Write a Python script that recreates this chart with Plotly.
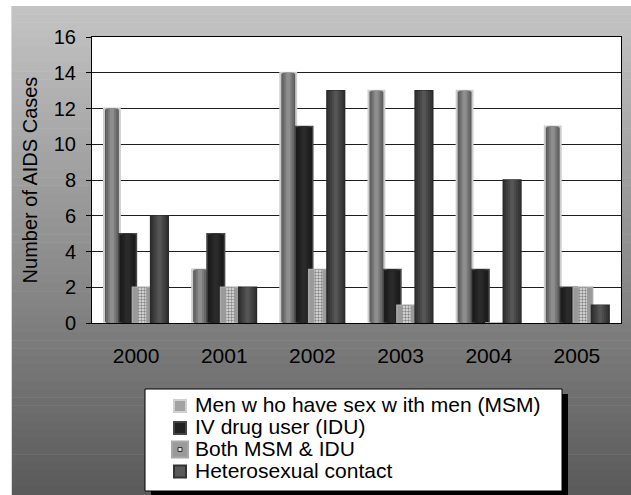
import plotly.graph_objects as go

# ---- data -------------------------------------------------------------
years = ["2000", "2001", "2002", "2003", "2004", "2005"]
msm = [12, 3, 14, 13, 13, 11]
idu = [5, 5, 11, 3, 3, 2]
both = [2, 2, 3, 1, 0, 2]
hetero = [6, 2, 13, 13, 8, 1]

names = [
    "Men w ho have sex w ith men (MSM)",
    "IV drug user (IDU)",
    "Both MSM & IDU",
    "Heterosexual contact",
]

W, H = 631, 495
L, R, T, B = 92, 10, 37, 172
PW, PH = W - L - R, H - T - B
FONT = "Liberation Sans, Arial, sans-serif"


def px_x(px):
    return (px - L) / PW


def px_y(py):
    return (H - B - py) / PH


xpos = list(range(len(years)))

# each series: centre offset, width, outer fill, border, inner shading layers
series = [
    dict(vals=msm, c=-0.274, w=0.18, fill="#5a5a5a", line="#cdcdcd", lw=2,
         layers=[(0.75, "#686868"), (0.5, "#7a7a7a"), (0.26, "#8e8e8e")],
         sym=dict(size=12, fill="#a2a2a2", line="#d0d0d0")),
    dict(vals=idu, c=-0.096, w=0.2, fill="#1c1c1c", line="#474747", lw=1.5,
         layers=[(0.6, "#222222"), (0.3, "#2a2a2a")],
         sym=dict(size=12, fill="#222222", line="#444444")),
    dict(vals=both, c=0.068, w=0.22, fill="#9a9a9a", line="#a8a8a8", lw=1.5,
         layers=[],
         sym=dict(size=16, fill="#9a9a9a", line="#a8a8a8")),
    dict(vals=hetero, c=0.265, w=0.2, fill="#353535", line="#2a2a2a", lw=1.5,
         layers=[(0.7, "#3f3f3f"), (0.45, "#4a4a4a"), (0.22, "#555555")],
         sym=dict(size=12, fill="#5a5a5a", line="#333333")),
]

fig = go.Figure()


def add_bar(vals, offset, width, marker):
    fig.add_trace(go.Bar(
        x=xpos, y=vals, offset=offset, width=width, marker=marker,
        textposition="none", showlegend=False, hoverinfo="skip",
    ))


for s in series:
    add_bar(s["vals"], s["c"] - s["w"] / 2, s["w"],
            dict(color=s["fill"], line=dict(color=s["line"], width=s["lw"])))
    for frac, col in s["layers"]:
        ww = s["w"] * frac
        add_bar(s["vals"], s["c"] - ww / 2, ww, dict(color=col, line=dict(width=0)))
    if s["vals"] is both:
        ww = s["w"] * 0.42
        add_bar(s["vals"], s["c"] - ww / 2, ww,
                dict(color="#dcdcdc", line=dict(width=0),
                     pattern=dict(shape=".", fgcolor="#262626", bgcolor="#e6e6e6",
                                  size=3, solidity=0.5)))

# ---- background: vertical grey gradient, white plot area -----------------
shapes = []
n = 60
top_px, bot_px = 6, H
c_top, c_bot = 196, 90
for i in range(n):
    y0 = top_px + (bot_px - top_px) * i / n
    y1 = top_px + (bot_px - top_px) * (i + 1) / n
    g = round(c_top + (c_bot - c_top) * (i + 0.5) / n)
    shapes.append(dict(type="rect", xref="paper", yref="paper", layer="below",
                       x0=px_x(11), x1=px_x(W + 2), y0=px_y(y1 + 0.5), y1=px_y(y0),
                       fillcolor=f"rgb({g},{g},{g})", line=dict(width=0)))
shapes.append(dict(type="line", xref="paper", yref="paper", layer="below",
                   x0=px_x(11.5), x1=px_x(11.5), y0=px_y(H), y1=px_y(6),
                   line=dict(color="#d8d8d8", width=1)))
shapes.append(dict(type="rect", xref="paper", yref="paper", layer="below",
                   x0=0, x1=1, y0=0, y1=1, fillcolor="white", line=dict(width=0)))

# ---- legend box with drop shadow -------------------------------------------
LX0, LX1, LY0, LY1 = 145, 562, 389, 491
shapes.append(dict(type="rect", xref="paper", yref="paper", layer="above",
                   x0=px_x(LX0 + 6), x1=px_x(LX1 + 6), y0=px_y(LY1 + 6), y1=px_y(LY0 + 5),
                   fillcolor="black", line=dict(width=0)))
shapes.append(dict(type="rect", xref="paper", yref="paper", layer="above",
                   x0=px_x(LX0), x1=px_x(LX1), y0=px_y(LY1), y1=px_y(LY0),
                   fillcolor="white", line=dict(color="black", width=1)))

annotations = []
row_y = [404.5, 426.5, 448, 470]
sym_cx = 180
for s, name, ry in zip(series, names, row_y):
    h = s["sym"]["size"] / 2
    shapes.append(dict(type="rect", xref="paper", yref="paper", layer="above",
                       x0=px_x(sym_cx - h), x1=px_x(sym_cx + h),
                       y0=px_y(ry + 1.5 + h), y1=px_y(ry + 1.5 - h),
                       fillcolor=s["sym"]["fill"],
                       line=dict(color=s["sym"]["line"], width=2)))
    annotations.append(dict(xref="paper", yref="paper", x=px_x(193), y=px_y(ry),
                            xanchor="left", yanchor="middle", showarrow=False,
                            text=name, font=dict(family=FONT, size=21, color="black")))
# dotted centre of the "Both" key
shapes.append(dict(type="rect", xref="paper", yref="paper", layer="above",
                   x0=px_x(sym_cx - 2), x1=px_x(sym_cx + 2),
                   y0=px_y(row_y[2] + 3.5), y1=px_y(row_y[2] - 0.5),
                   fillcolor="#e0e0e0", line=dict(color="#333333", width=1)))

fig.update_layout(
    width=W, height=H, autosize=False,
    margin=dict(l=L, r=R, t=T, b=B, pad=0),
    paper_bgcolor="white", plot_bgcolor="white",
    barmode="overlay",
    hovermode=False,
    font=dict(family=FONT, size=20, color="black"),
    shapes=shapes,
    annotations=annotations,
    showlegend=False,
    xaxis=dict(
        range=[-0.5, len(years) - 0.5], tickvals=xpos, ticktext=years,
        showgrid=False, zeroline=False, ticks="",
        showline=True, linecolor="black", linewidth=1, mirror=True,
        tickfont=dict(size=21), ticklabelstandoff=14,
    ),
    yaxis=dict(
        range=[0, 16], dtick=2, tick0=0,
        showgrid=True, gridcolor="#1e1e1e", gridwidth=1, zeroline=False,
        ticks="outside", ticklen=5, tickcolor="black",
        showline=True, linecolor="black", linewidth=1, mirror=True,
        tickfont=dict(size=20), ticklabelstandoff=6,
        title=dict(text="Number of AIDS Cases", font=dict(size=20), standoff=10),
    ),
)

fig.write_html("out.html", config={"staticPlot": True, "displayModeBar": False})
